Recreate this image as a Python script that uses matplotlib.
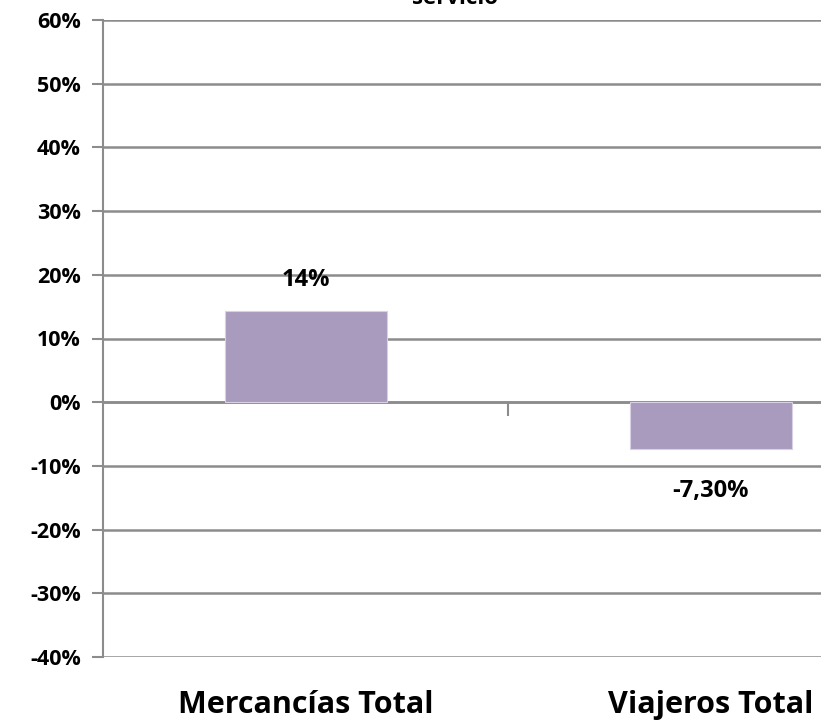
import matplotlib.pyplot as plt
from matplotlib.ticker import FuncFormatter

categories = ['Mercancías Total', 'Viajeros Total']
values = [0.143, -0.073]
value_labels = ['14%', '-7,30%']
yticks = [-0.4, -0.3, -0.2, -0.1, 0.0, 0.1, 0.2, 0.3, 0.4, 0.5, 0.6]

plt.rcParams['font.family'] = ['Open Sans', 'DejaVu Sans']
plt.rcParams['font.weight'] = 'bold'

grid_c = '#8c8c8c'
bar_c = '#a99bbd'

fig = plt.figure(figsize=(8.21, 7.28), dpi=100)
# plot area runs past the right edge of the image, as in the reference
ax = fig.add_axes([103 / 821, 71 / 728, 810 / 821, 637 / 728])

x = list(range(len(categories)))
bars = ax.bar(x, values, width=0.4, color=bar_c, edgecolor='#d8d0e3', linewidth=0.8, zorder=3)

ax.set_xlim(-0.5, 1.5)
ax.set_ylim(-0.4, 0.6)
ax.set_yticks(yticks)
ax.yaxis.set_major_formatter(FuncFormatter(lambda v, p: '%d%%' % round(v * 100)))
ax.tick_params(axis='y', length=8, width=1.5, color=grid_c, labelsize=15.5, pad=8)
for t in ax.get_yticklabels():
    t.set_fontweight('bold')
ax.yaxis.grid(True, color=grid_c, linewidth=1.8, zorder=0)

for s in ['top', 'right']:
    ax.spines[s].set_visible(False)
ax.spines['left'].set_color(grid_c)
ax.spines['left'].set_linewidth(1.5)
ax.spines['bottom'].set_position(('data', 0))
ax.spines['bottom'].set_color(grid_c)
ax.spines['bottom'].set_linewidth(1.8)
ax.set_xticks([0.5])
ax.set_xticklabels([''])
ax.tick_params(axis='x', length=10, width=1.5, color=grid_c, direction='out')

sec = ax.secondary_xaxis(0)
sec.set_xticks(x)
sec.set_xticklabels(categories)
sec.tick_params(length=0, labelsize=22, pad=24)
sec.spines['bottom'].set_visible(False)
for t in sec.get_xticklabels():
    t.set_fontweight('bold')

for b, v, lab in zip(bars, values, value_labels):
    if v >= 0:
        ax.annotate(lab, (b.get_x() + b.get_width() / 2, v), xytext=(0, 14),
                    textcoords='offset points', ha='center', va='bottom',
                    fontsize=17, fontweight='bold')
    else:
        ax.annotate(lab, (b.get_x() + b.get_width() / 2, v), xytext=(0, -22),
                    textcoords='offset points', ha='center', va='top',
                    fontsize=17, fontweight='bold')

fig.text(455 / 821, 1 - 9 / 728, 'servicio', ha='center', va='bottom',
         fontsize=16, fontweight='bold')

fig.savefig('out.png', dpi=100)
